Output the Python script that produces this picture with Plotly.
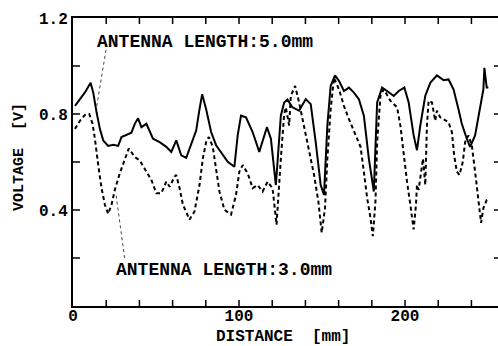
import plotly.graph_objects as go

# ---- data ----
dist_5mm = [1.2, 4.2, 7.2, 10.6, 12.2, 14.2, 16.2, 18.2, 21.2, 24.2, 27.2, 29.2, 32.2, 35.2, 37.2, 39.2,
            41.2, 44.2, 48.2, 52.2, 56.2, 59.2, 62.2, 65.2, 68.2, 71.2, 74.2, 76.2, 77.8, 80.2, 83.2,
            86.2, 90.2, 93.2, 97.2, 99.2, 101.2, 104.2, 108.2, 112.2, 116.8, 119.2, 122.2, 125.2,
            127.2, 129.2, 132.2, 136.2, 140.2, 143.2, 146.2, 149.2, 151.2, 153.2, 155.2, 157.8,
            160.2, 163.2, 166.2, 169.2, 172.2, 175.2, 178.2, 181.2, 183.2, 186.2, 189.2, 193.2,
            196.2, 199.6, 202.2, 205.2, 207.2, 209.2, 212.2, 215.2, 219.2, 223.2, 226.2, 229.2,
            232.2, 234.2, 237.2, 239.2, 242.2, 245.2, 247.2, 247.8, 249.2, 250.2]
volt_5mm = [0.834, 0.862, 0.89, 0.93, 0.889, 0.807, 0.738, 0.69, 0.667, 0.672, 0.667, 0.704, 0.713,
            0.722, 0.759, 0.782, 0.745, 0.759, 0.697, 0.683, 0.663, 0.642, 0.69, 0.628, 0.617, 0.67,
            0.731, 0.82, 0.882, 0.82, 0.725, 0.67, 0.628, 0.601, 0.58, 0.711, 0.793, 0.786, 0.725,
            0.642, 0.745, 0.697, 0.504, 0.793, 0.848, 0.86, 0.828, 0.814, 0.862, 0.841, 0.683,
            0.504, 0.463, 0.752, 0.917, 0.961, 0.938, 0.896, 0.91, 0.889, 0.862, 0.793, 0.614,
            0.477, 0.848, 0.91, 0.896, 0.875, 0.896, 0.91, 0.848, 0.711, 0.649, 0.752, 0.876,
            0.93, 0.961, 0.941, 0.944, 0.903, 0.82, 0.759, 0.697, 0.663, 0.711, 0.82, 0.903,
            0.992, 0.91, 0.91]

dist_3mm = [1.2, 4.2, 7.2, 9.8, 11.8, 13.2, 15.2, 17.2, 19.2, 21.2, 23.2, 25.2, 28.2, 31.2, 33.6,
            37.2, 40.2, 44.2, 47.2, 50.2, 53.2, 56.2, 58.2, 61.2, 62.2, 64.2, 66.2, 70.2, 73.2,
            76.2, 78.2, 80.2, 81.8, 84.2, 86.2, 88.2, 91.2, 95.2, 98.2, 100.2, 102.2, 105.2,
            108.2, 111.2, 114.2, 117.2, 120.2, 122.6, 125.2, 127.2, 128.2, 130.2, 131.2, 133.8,
            136.2, 139.2, 142.2, 145.2, 147.8, 149.8, 151.8, 153.2, 155.2, 157.2, 160.2, 163.2,
            166.2, 170.2, 173.2, 175.2, 177.2, 179.2, 180.6, 182.2, 183.2, 185.2, 187.2, 191.2,
            195.2, 197.2, 199.2, 201.2, 203.2, 205.2, 206.6, 207.2, 208.2, 209.6, 210.8, 212.2,
            213.2, 214.2, 216.2, 218.2, 219.2, 221.2, 224.2, 226.2, 228.2, 229.6, 231.2, 232.8,
            234.8, 236.2, 238.2, 240.2, 242.2, 244.2, 245.8, 247.2, 249.2, 250.8]
volt_3mm = [0.738, 0.772, 0.796, 0.80, 0.759, 0.697, 0.587, 0.491, 0.422, 0.384, 0.422, 0.484,
            0.553, 0.614, 0.656, 0.621, 0.607, 0.56, 0.525, 0.47, 0.47, 0.518, 0.497, 0.539,
            0.546, 0.491, 0.422, 0.36, 0.394, 0.504, 0.614, 0.683, 0.704, 0.663, 0.573, 0.477,
            0.401, 0.381, 0.463, 0.56, 0.587, 0.553, 0.491, 0.504, 0.477, 0.518, 0.491, 0.339,
            0.614, 0.80, 0.828, 0.752, 0.876, 0.917, 0.848, 0.752, 0.656, 0.546, 0.436, 0.305,
            0.408, 0.614, 0.82, 0.951, 0.903, 0.834, 0.779, 0.711, 0.663, 0.56, 0.449, 0.367,
            0.291, 0.436, 0.683, 0.876, 0.903, 0.855, 0.828, 0.752, 0.628, 0.518, 0.422, 0.319,
            0.422, 0.504, 0.484, 0.546, 0.614, 0.504, 0.752, 0.855, 0.848, 0.772, 0.814, 0.786,
            0.772, 0.766, 0.725, 0.628, 0.56, 0.546, 0.601, 0.683, 0.711, 0.67, 0.56, 0.449,
            0.346, 0.408, 0.442, 0.449]

x_label_vals = [0, 100, 200]
x_label_text = ["0", "100", "200"]
y_label_vals = [0.4, 0.8, 1.2]
y_label_text = ["0.4", "0.8", "1.2"]
x_tick_marks = [20, 40, 60, 80, 100, 120, 140, 160, 180, 200, 220, 240]
y_tick_marks = [0.2, 0.4, 0.6, 0.8, 1.0]

x_title = "DISTANCE\u00a0 [mm]"
y_title = "VOLTAGE\u00a0 [V]"
label_5mm = "ANTENNA LENGTH:5.0mm"
label_3mm = "ANTENNA LENGTH:3.0mm"

FONT = "Liberation Mono"
PLOT_W, PLOT_H = 425, 288

fig = go.Figure()
fig.add_trace(go.Scatter(x=dist_5mm, y=volt_5mm, mode="lines",
                         line=dict(color="black", width=2), showlegend=False))
fig.add_trace(go.Scatter(x=dist_3mm, y=volt_3mm, mode="lines",
                         line=dict(color="black", width=2, dash="4px,3px"), showlegend=False))

# inward tick marks (bottom, top, left, right)
tick_line = dict(color="black", width=1.5)
for v in x_tick_marks:
    fig.add_shape(type="line", xref="x", yref="paper", x0=v, x1=v, y0=0, y1=6 / PLOT_H, line=tick_line)
    fig.add_shape(type="line", xref="x", yref="paper", x0=v, x1=v, y0=1, y1=1 - 6 / PLOT_H, line=tick_line)
for v in y_tick_marks:
    fig.add_shape(type="line", xref="paper", yref="y", x0=0, x1=7 / PLOT_W, y0=v, y1=v, line=tick_line)
    fig.add_shape(type="line", xref="paper", yref="y", x0=1, x1=1 - 4 / PLOT_W, y0=v, y1=v, line=tick_line)

# leader lines
fig.add_shape(type="line", x0=19.9, y0=1.067, x1=14.2, y1=0.829,
              line=dict(color="#444", width=1, dash="dot"))
fig.add_shape(type="line", x0=26.0, y0=0.46, x1=31.3, y1=0.19,
              line=dict(color="#444", width=1, dash="dot"))

fig.add_annotation(x=13.3, y=1.10, text=label_5mm, showarrow=False, xanchor="left",
                   yanchor="middle", font=dict(family=FONT, size=18, color="black", weight="bold"))
fig.add_annotation(x=24.5, y=0.15, text=label_3mm, showarrow=False, xanchor="left",
                   yanchor="middle", font=dict(family=FONT, size=18, color="black", weight="bold"))

# axis titles placed as paper annotations
fig.add_annotation(xref="paper", yref="paper", x=(283 - 73) / PLOT_W, y=(306 - 337) / PLOT_H,
                   text=x_title, showarrow=False, xanchor="center", yanchor="middle",
                   font=dict(family=FONT, size=16, color="black", weight="bold"))
fig.add_annotation(xref="paper", yref="paper", x=(19 - 73) / PLOT_W, y=(306 - 157) / PLOT_H,
                   text=y_title, showarrow=False, textangle=-90, xanchor="center", yanchor="middle",
                   font=dict(family=FONT, size=15, color="black", weight="bold"))

fig.update_layout(
    width=498, height=346,
    margin=dict(l=73, r=0, t=18, b=40),
    paper_bgcolor="white", plot_bgcolor="white",
    font=dict(family=FONT, color="black"),
    xaxis=dict(range=[0, 256], tickmode="array", tickvals=x_label_vals, ticktext=x_label_text,
               ticks="", showline=True, linecolor="black", linewidth=2, mirror=True,
               showgrid=False, zeroline=False, ticklabelstandoff=-6,
               tickfont=dict(family=FONT, size=16, weight="bold")),
    yaxis=dict(range=[0, 1.2], tickmode="array", tickvals=y_label_vals, ticktext=y_label_text,
               ticks="", showline=True, linecolor="black", linewidth=2,
               showgrid=False, zeroline=False,
               tickfont=dict(family=FONT, size=16, weight="bold")),
)

fig.write_html("out.html")
